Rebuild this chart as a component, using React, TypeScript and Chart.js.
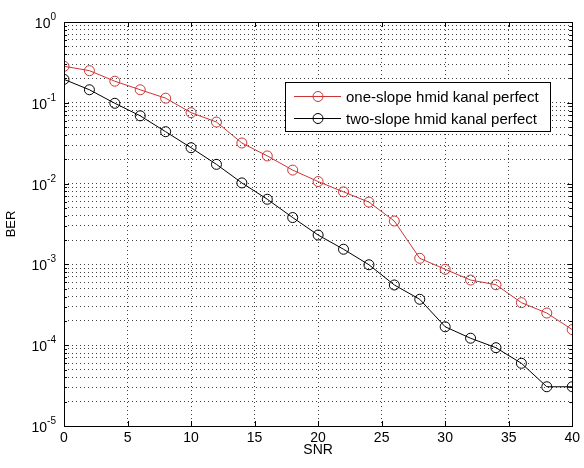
import React, { useEffect, useRef } from "react";
import { Chart, registerables } from "chart.js";

Chart.register(...registerables);

const snr = [0, 2, 4, 6, 8, 10, 12, 14, 16, 18, 20, 22, 24, 26, 28, 30, 32, 34, 36, 38, 40];
const berOneSlope = [0.283, 0.25, 0.185, 0.145, 0.114, 0.0755, 0.0578, 0.0318, 0.022, 0.0147, 0.0106, 0.0079, 0.0059, 0.00344, 0.00119, 0.00087, 0.00064, 0.00056, 0.000336, 0.00025, 0.000156];
const berTwoSlope = [0.195, 0.145, 0.0986, 0.069, 0.0439, 0.0278, 0.0173, 0.0102, 0.0064, 0.0038, 0.00231, 0.00154, 0.00099, 0.000556, 0.00037, 0.000169, 0.000122, 0.0000931, 0.0000597, 0.0000306, 0.0000306];
const seriesLabels = ["one-slope hmid kanal perfect", "two-slope hmid kanal perfect"];
const seriesColors = ["#cc3535", "#000000"];
const xTicks = [0, 5, 10, 15, 20, 25, 30, 35, 40];
const yDecades = [-5, -4, -3, -2, -1, 0];
const yTickBase = "10";
const yTickExponents = ["-5", "-4", "-3", "-2", "-1", "0"];
const FONT = "'Liberation Sans', Arial, 'DejaVu Sans', sans-serif";

const isDecade = (v: number) => Math.abs(Math.log10(v) - Math.round(Math.log10(v))) < 1e-9;

const boxPlugin = {
  id: "matlabBox",
  afterDraw(chart: any) {
    const { ctx, chartArea: a, scales } = chart;
    ctx.save();
    ctx.strokeStyle = "#000";
    ctx.lineWidth = 1;
    ctx.beginPath();
    for (const t of xTicks) {
      const px = Math.round(scales.x.getPixelForValue(t)) + 0.5;
      ctx.moveTo(px, a.bottom);
      ctx.lineTo(px, a.bottom - 5);
      ctx.moveTo(px, a.top);
      ctx.lineTo(px, a.top + 5);
    }
    for (const t of scales.y.ticks) {
      const py = Math.round(scales.y.getPixelForValue(t.value)) + 0.5;
      const len = isDecade(t.value) ? 5 : 3;
      ctx.moveTo(a.left, py);
      ctx.lineTo(a.left + len, py);
      ctx.moveTo(a.right, py);
      ctx.lineTo(a.right - len, py);
    }
    ctx.stroke();
    ctx.strokeRect(Math.round(a.left) + 0.5, Math.round(a.top) + 0.5, Math.round(a.right - a.left), Math.round(a.bottom - a.top));

    // y tick labels: 10 with superscript exponent
    ctx.fillStyle = "#000";
    ctx.textAlign = "right";
    ctx.textBaseline = "alphabetic";
    yDecades.forEach((e, i) => {
      const py = scales.y.getPixelForValue(Math.pow(10, e));
      const ex = a.left - 8;
      ctx.font = `10px ${FONT}`;
      const exp = yTickExponents[i];
      const w = ctx.measureText(exp).width;
      ctx.fillText(exp, ex, py - 2);
      ctx.font = `14px ${FONT}`;
      ctx.fillText(yTickBase, ex - w, py + 6);
    });

    // legend
    const lx = Math.round(a.left + (a.right - a.left) * 0.435);
    const ly = Math.round(a.top + (a.bottom - a.top) * 0.148);
    const lw = 265;
    const lh = 49;
    ctx.fillStyle = "#fff";
    ctx.fillRect(lx, ly, lw, lh);
    ctx.strokeStyle = "#000";
    ctx.strokeRect(lx + 0.5, ly + 0.5, lw, lh);
    ctx.font = `15px ${FONT}`;
    ctx.textAlign = "left";
    ctx.textBaseline = "middle";
    chart.data.datasets.forEach((ds: any, i: number) => {
      const y = Math.round(ly + 14 + i * 22) + 0.5;
      ctx.strokeStyle = ds.borderColor;
      ctx.beginPath();
      ctx.moveTo(lx + 9, y);
      ctx.lineTo(lx + 56, y);
      ctx.stroke();
      ctx.beginPath();
      ctx.arc(lx + 33, y, 5, 0, Math.PI * 2);
      ctx.stroke();
      ctx.fillStyle = "#000";
      ctx.fillText(ds.label, lx + 61, y + 1);
    });
    ctx.restore();
  },
};

export default function App() {
  const ref = useRef<HTMLCanvasElement>(null);
  useEffect(() => {
    document.body.style.margin = "0";
    const mk = (vals: number[]) => snr.map((x, i) => ({ x, y: vals[i] }));
    const chart = new Chart(ref.current!, {
      type: "line",
      data: {
        datasets: [berOneSlope, berTwoSlope].map((vals, i) => ({
          label: seriesLabels[i],
          data: mk(vals),
          borderColor: seriesColors[i],
          backgroundColor: "rgba(0,0,0,0)",
          borderWidth: 1,
          pointRadius: 5,
          pointBorderWidth: 1,
          pointBackgroundColor: "rgba(0,0,0,0)",
          pointBorderColor: seriesColors[i],
          tension: 0,
        })),
      },
      options: {
        animation: false,
        responsive: true,
        maintainAspectRatio: false,
        layout: { padding: { top: 22, right: 7, left: 0, bottom: 0 } },
        plugins: { legend: { display: false }, tooltip: { enabled: false } },
        scales: {
          x: {
            type: "linear",
            min: 0,
            max: 40,
            afterBuildTicks: (s: any) => {
              s.ticks = xTicks.map((v) => ({ value: v }));
            },
            afterFit: (s: any) => {
              s.height = 42;
            },
            ticks: { color: "#000", font: { family: FONT, size: 14 }, padding: 4, maxRotation: 0 },
            grid: { color: "rgba(0,0,0,0.75)", drawTicks: false, lineWidth: 1 },
            border: { display: false, dash: [1, 3] },
            title: { display: true, text: "SNR", color: "#000", font: { family: FONT, size: 14 }, padding: { top: 0, bottom: 9 } },
          },
          y: {
            type: "logarithmic",
            min: 1e-5,
            max: 1,
            afterBuildTicks: (s: any) => {
              const t: any[] = [];
              for (const e of yDecades) {
                for (let m = 1; m <= 9; m++) {
                  const v = m * Math.pow(10, e);
                  if (v <= 1 + 1e-12) t.push({ value: parseFloat(v.toPrecision(6)) });
                }
              }
              s.ticks = t;
            },
            afterFit: (s: any) => {
              s.width = 64;
            },
            ticks: {
              autoSkip: false,
              color: "#000",
              font: { family: FONT, size: 13 },
              padding: 6,
              callback: () => "",
            },
            grid: { color: "rgba(0,0,0,0.75)", drawTicks: false, lineWidth: 1 },
            border: { display: false, dash: [1, 3] },
            title: { display: true, text: "BER", color: "#000", font: { family: FONT, size: 13 }, padding: { top: 4, bottom: 0 } },
          },
        },
      },
      plugins: [boxPlugin],
    } as any);
    return () => chart.destroy();
  }, []);
  return (
    <div style={{ width: 584, height: 468, position: "relative", background: "#fff" }}>
      <canvas ref={ref} />
    </div>
  );
}
